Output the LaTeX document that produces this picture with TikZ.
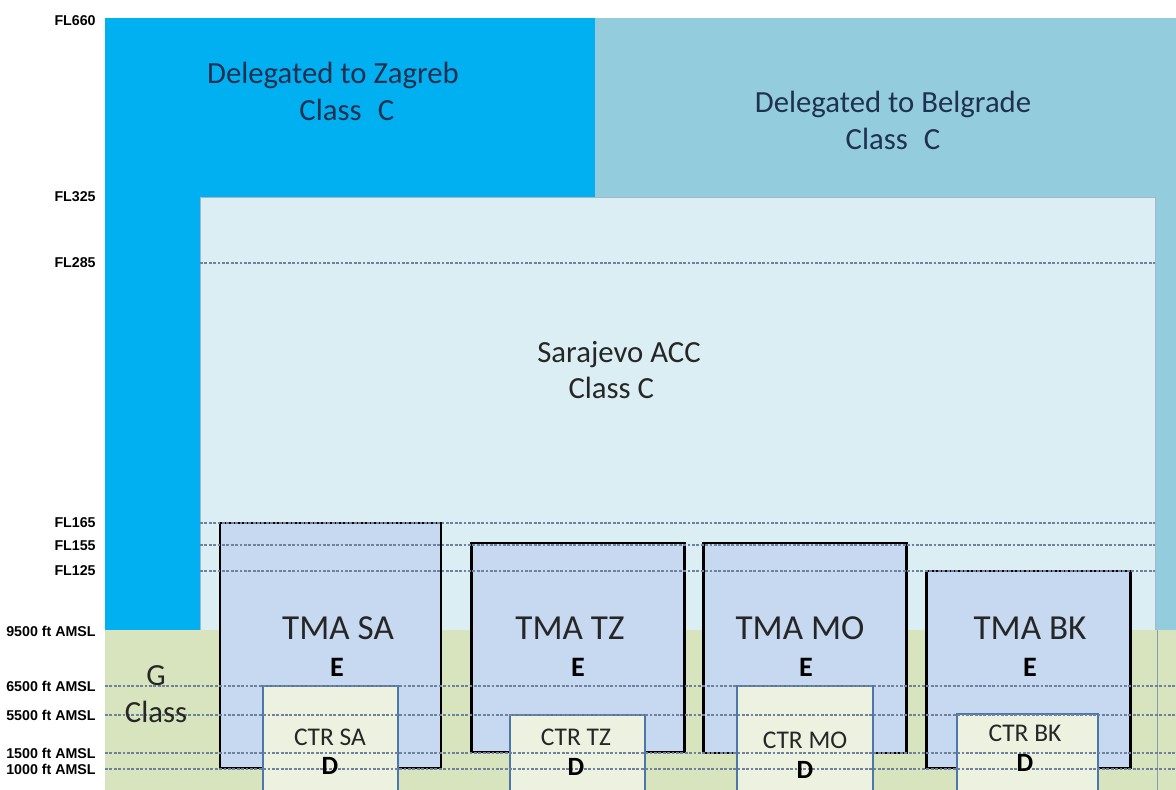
\documentclass[tikz,border=0pt]{standalone}
\usepackage{fontspec}
\setmainfont{Carlito}
\newfontfamily\lblfont{Liberation Sans}
\usepackage{xcolor}
\usetikzlibrary{backgrounds}

\definecolor{zagrebblue}{HTML}{00B0F0}
\definecolor{belgradeblue}{HTML}{93CDDD}
\definecolor{accblue}{HTML}{DBEEF4}
\definecolor{gclassgreen}{HTML}{D7E4BD}
\definecolor{tmablue}{HTML}{C6D9F1}
\definecolor{ctrcream}{HTML}{ECF1E0}
\definecolor{ctrborder}{HTML}{4A78A8}
\definecolor{levelgray}{HTML}{6F819C}
\definecolor{navytext}{HTML}{1F3050}
\definecolor{darktext}{HTML}{262626}

\begin{document}
\begin{tikzpicture}[x=0.02cm,y=-0.02cm]
        % Define the styles for levels, boxes and texts
        \tikzstyle{level label}=[anchor=east, inner sep=0pt, font=\lblfont\bfseries\fontsize{8.1}{9}\selectfont];
        \tikzstyle{level line}=[draw=levelgray, line width=0.7pt, dash pattern=on 1.6pt off 0.9pt];
        \tikzstyle{tma box}=[draw=black, line width=1.7pt, fill=tmablue];
        \tikzstyle{ctr box}=[draw=ctrborder, line width=1.4pt, fill=ctrcream];
        \tikzstyle{zone text}=[align=center, text=navytext, font=\fontsize{17.5}{21}\selectfont];
        \tikzstyle{tma text}=[text=darktext, font=\fontsize{20}{22}\selectfont];
        \tikzstyle{ctr text}=[text=darktext, font=\fontsize{14.5}{16}\selectfont];
        \tikzstyle{class letter}=[text=black, font=\bfseries\fontsize{16}{18}\selectfont];

        % Page size
        \useasboundingbox (0,0) rectangle (1176,790);
        \fill[white] (0,0) rectangle (1176,790);

        % Delegated areas
        \fill[zagrebblue] (105,18) rectangle (595,630);
        \fill[belgradeblue] (595,18) rectangle (1176,630);

        % Sarajevo ACC
        \fill[accblue] (200,197) rectangle (1155,630);
        \draw[levelgray!60, line width=0.4pt] (200,630) -- (200,197) -- (1155,197) -- (1155,630);

        % Class G below 9500 ft
        \fill[gclassgreen] (105,630) rectangle (1176,790);
        \draw[levelgray!80, line width=0.4pt] (1157,630) -- (1157,790);

        % TMA boxes
        \draw[tma box] (220,523) rectangle (441,768);
        \draw[tma box] (471,543) rectangle (684,752);
        \draw[tma box] (703,543) rectangle (906,753);
        \draw[tma box] (926,571) rectangle (1130,768);

        % CTR boxes
        \draw[ctr box] (263,790) |- (398,686) -- (398,790);
        \draw[ctr box] (510,790) |- (645,715) -- (645,790);
        \draw[ctr box] (737,790) |- (873,686) -- (873,790);
        \draw[ctr box] (957,790) |- (1098,714) -- (1098,790);

        % Level lines
        \foreach \y in {263,523,545,571}
            \draw[level line] (200,\y) -- (1155,\y);
        \foreach \y in {686,715,753,769}
            \draw[level line] (105,\y) -- (1176,\y);

        % Level labels
        \foreach \id/\y/\txt in {fl660/21/FL660, fl325/197/FL325, fl285/263/FL285,
                fl165/523/FL165, fl155/546/FL155, fl125/571/FL125,
                a9500/631/9500 ft AMSL, a6500/686/6500 ft AMSL, a5500/715/5500 ft AMSL,
                a1500/753/1500 ft AMSL, a1000/769/1000 ft AMSL}
            \node[level label] (\id) at (96,\y) {\txt};

        % Area names
        \node[zone text] (zagreb) at (333,91) {Delegated to Zagreb\\ \hspace*{0.9em}Class\hspace{0.3em} C};
        \node[zone text] (belgrade) at (893,120) {Delegated to Belgrade\\ Class\hspace{0.3em} C};
        \node[zone text, text=darktext] (acc) at (619,370) {Sarajevo ACC\\ Class C\hspace*{0.5em}};
        \node[zone text, text=darktext] (gclass) at (156,694) {G\\ Class};

        % TMA names and classes
        \node[tma text] (tmasa) at (338,628) {TMA SA};
        \node[class letter] (tmasa-e) at (337,667) {E};
        \node[tma text] (tmatz) at (570,628) {TMA TZ};
        \node[class letter] (tmatz-e) at (578,667) {E};
        \node[tma text] (tmamo) at (800,628) {TMA MO};
        \node[class letter] (tmamo-e) at (806,667) {E};
        \node[tma text] (tmabk) at (1030,628) {TMA BK};
        \node[class letter] (tmabk-e) at (1030,667) {E};

        % CTR names and classes
        \node[ctr text] (ctrsa) at (330,737) {CTR SA};
        \node[class letter, font=\bfseries\fontsize{15}{17}\selectfont] (ctrsa-d) at (330,766) {D};
        \node[ctr text] (ctrtz) at (576,737) {CTR TZ};
        \node[class letter, font=\bfseries\fontsize{15}{17}\selectfont] (ctrtz-d) at (576,767) {D};
        \node[ctr text] (ctrmo) at (805,740) {CTR MO};
        \node[class letter, font=\bfseries\fontsize{15}{17}\selectfont] (ctrmo-d) at (805,770) {D};
        \node[ctr text] (ctrbk) at (1025,733) {CTR BK};
        \node[class letter, font=\bfseries\fontsize{15}{17}\selectfont] (ctrbk-d) at (1025,763) {D};

    \end{tikzpicture}
\end{document}
